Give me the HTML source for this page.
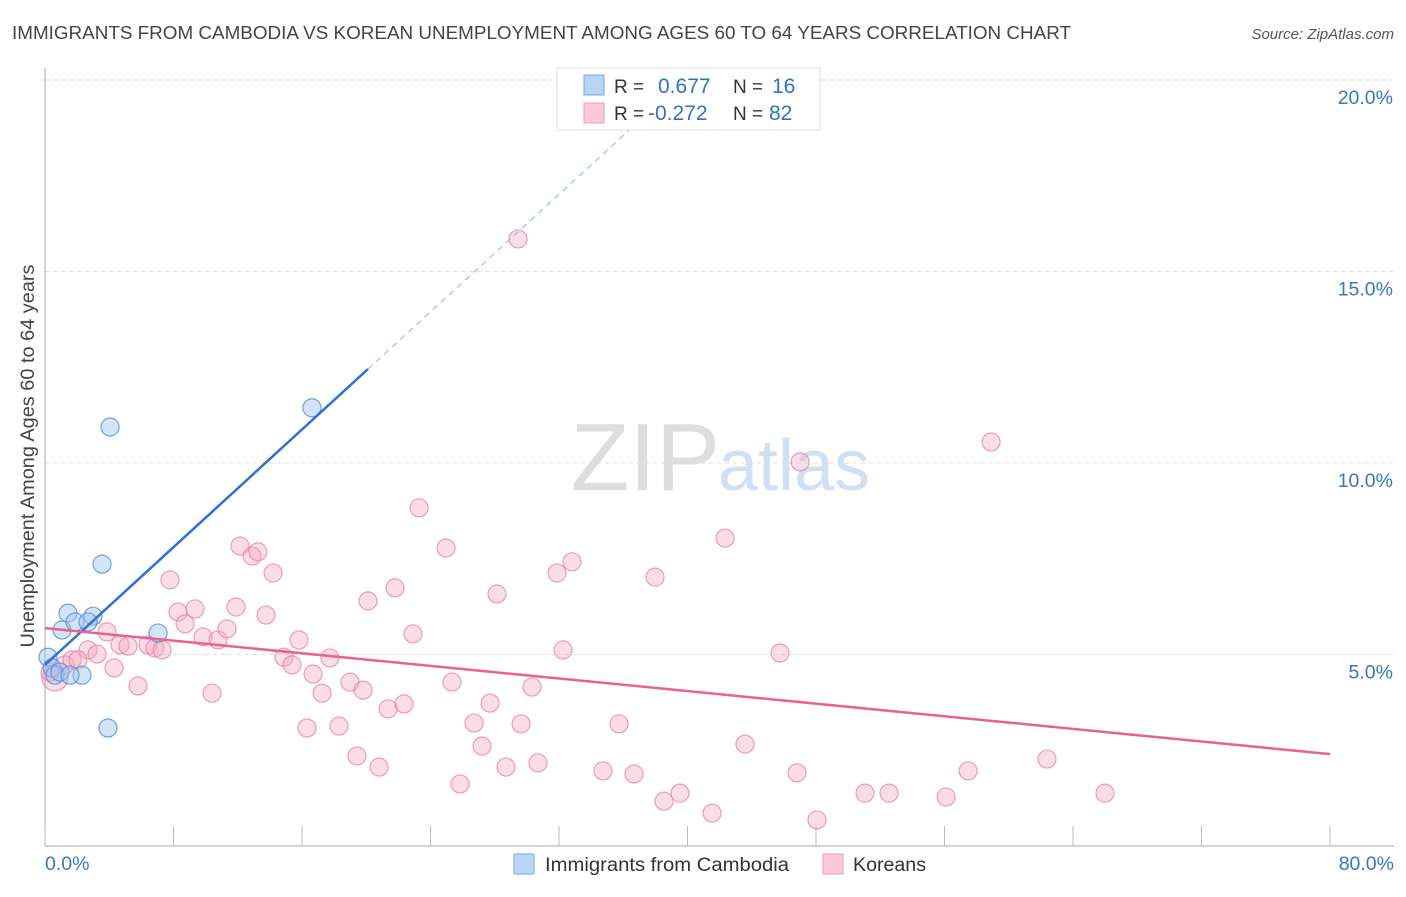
<!DOCTYPE html>
<html><head><meta charset="utf-8">
<style>
body{margin:0;background:#fff;font-family:"Liberation Sans",sans-serif;}
svg text{font-family:"Liberation Sans",sans-serif;}
</style></head>
<body>
<svg id="chart" width="1406" height="892" xmlns="http://www.w3.org/2000/svg">
<text x="12" y="39" font-size="18.5" fill="#444" textLength="1059" lengthAdjust="spacingAndGlyphs">IMMIGRANTS FROM CAMBODIA VS KOREAN UNEMPLOYMENT AMONG AGES 60 TO 64 YEARS CORRELATION CHART</text>
<text x="1394" y="39" font-size="15" fill="#555" text-anchor="end" font-style="italic">Source: ZipAtlas.com</text>
<text transform="translate(34,456) rotate(-90)" font-size="19" fill="#444" text-anchor="middle" textLength="383" lengthAdjust="spacingAndGlyphs">Unemployment Among Ages 60 to 64 years</text>
<text x="720" y="490" font-size="96" text-anchor="end" fill="#ddd" font-family="Liberation Serif">ZIP</text>
<text x="718" y="490" font-size="72" fill="#cfe0f3">atlas</text>
<g id="grid"></g>
<g id="marks"></g>
<g>
<rect x="557" y="68" width="263" height="62" fill="#fff" stroke="#ddd"/>
<rect x="584" y="75" width="20" height="20" fill="#b8d4f5" stroke="#7aa9e0"/>
<rect x="584" y="103" width="20" height="20" fill="#fcc9d8" stroke="#ef9bb4"/>
<text x="614" y="93" font-size="19" fill="#333">R =</text>
<text x="658" y="93" font-size="21" fill="#3570c8">0.677</text>
<text x="733" y="93" font-size="19" fill="#333">N =</text>
<text x="772" y="93" font-size="21" fill="#3570c8">16</text>
<text x="614" y="120" font-size="19" fill="#333">R =</text>
<text x="648" y="120" font-size="21" fill="#3570c8">-0.272</text>
<text x="733" y="120" font-size="19" fill="#333">N =</text>
<text x="769" y="120" font-size="21" fill="#3570c8">82</text>
</g>
<g>
<rect x="514" y="854" width="20" height="20" fill="#b8d4f5" stroke="#7aa9e0"/>
<text x="545" y="871" font-size="19" fill="#333" textLength="244" lengthAdjust="spacingAndGlyphs">Immigrants from Cambodia</text>
<rect x="823" y="854" width="20" height="20" fill="#fcc9d8" stroke="#ef9bb4"/>
<text x="853" y="871" font-size="19" fill="#333" textLength="73" lengthAdjust="spacingAndGlyphs">Koreans</text>
</g>
</svg>
<script>
const xTicks=[0,80];
const yTicks=[5,10,15,20];
const blueX=[0.19,0.44,0.62,0.93,1.43,1.06,1.87,2.30,2.99,2.68,3.55,4.05,3.92,7.04,16.62,1.56];
const blueY=[4.93,4.65,4.46,4.54,6.08,5.64,5.85,4.46,6.0,5.85,7.36,10.94,3.08,5.56,11.44,4.46];
const pinkX=[0.62,1.25,1.68,2.68,3.24,3.86,4.30,4.67,5.17,5.79,6.41,6.85,7.29,7.78,8.28,8.72,9.34,9.84,10.40,10.77,11.33,11.89,12.14,12.89,13.26,13.76,14.20,14.88,15.38,15.81,16.31,16.69,17.25,17.74,18.30,18.99,19.42,19.80,20.11,20.80,21.36,21.79,22.35,22.91,23.29,24.97,25.34,25.84,26.71,27.21,27.71,28.14,28.70,29.45,29.64,30.32,30.69,31.88,32.25,32.81,34.74,35.74,36.67,37.98,38.54,39.53,41.53,42.34,43.58,45.76,46.82,47.01,48.06,51.05,52.55,56.10,57.47,58.90,62.38,65.99,0.31,2.05];
const pinkY=[4.39,4.73,4.86,5.12,5.01,5.59,4.65,5.25,5.22,4.18,5.25,5.17,5.12,6.95,6.11,5.80,6.19,5.46,3.99,5.38,5.67,6.24,7.83,7.57,7.68,6.03,7.13,4.93,4.73,5.38,3.08,4.49,3.99,4.91,3.13,4.28,2.35,4.07,6.40,2.06,3.58,6.74,3.71,5.54,8.83,7.78,4.28,1.62,3.21,2.61,3.73,6.58,2.06,15.85,3.19,4.15,2.17,7.13,5.12,7.42,1.96,3.19,1.88,7.02,1.17,1.38,0.86,8.04,2.66,5.04,1.91,10.03,0.68,1.38,1.38,1.28,1.96,10.55,2.27,1.38,4.54,4.86];
const blueLine=[0,4.73,20.1,12.45,37.7,19.2];
const pinkLine=[0,5.69,80,2.40];
const X=v=>45+v*1285/80, Y=v=>846-v*38.3;
const NS='http://www.w3.org/2000/svg';
function mk(p,t,a){const e=document.createElementNS(NS,t);for(const k in a)e.setAttribute(k,a[k]);p.appendChild(e);return e;}
const g=document.getElementById('grid'), m=document.getElementById('marks');
yTicks.forEach(t=>{
 const l=mk(g,'line',{x1:45,x2:1394,y1:Y(t),y2:Y(t),stroke:'#ddd','stroke-dasharray':'4,4'});
 
 
 const tx=mk(g,'text',{x:1393,y:Y(t)+24,'font-size':19.5,fill:'#3a75c4','text-anchor':'end'});tx.textContent=t.toFixed(1)+'%';
 
 
});
mk(g,'line',{x1:45,x2:45,y1:68,y2:846,stroke:'#aaa'});
mk(g,'line',{x1:45,x2:1394,y1:846,y2:846,stroke:'#aaa'});
for(let i=0;i<=10;i++){mk(g,'line',{x1:X(i*8),x2:X(i*8),y1:826,y2:846,stroke:'#bbb'});}
xTicks.forEach((t,i)=>{const tx=mk(g,'text',{x:i?1394:45,y:870,'font-size':19.5,fill:'#3a75c4','text-anchor':i?'end':'start'});tx.textContent=t.toFixed(1)+'%';
 
 });
pinkX.forEach((x,i)=>{const c=mk(m,'circle',{cx:X(x),cy:Y(pinkY[i]),r:i==0?13:9,fill:'rgba(246,170,195,0.4)',stroke:'rgba(232,120,155,0.7)','stroke-width':1.2});
 
 });
blueX.forEach((x,i)=>{const c=mk(m,'circle',{cx:X(x),cy:Y(blueY[i]),r:9,fill:'rgba(160,196,240,0.45)',stroke:'rgba(80,140,215,0.8)','stroke-width':1.2});
 
 });
const bl=mk(m,'line',{x1:X(blueLine[0]),y1:Y(blueLine[1]),x2:X(blueLine[2]),y2:Y(blueLine[3]),stroke:'#2f6fd6','stroke-width':2.5});


const bd=mk(m,'line',{x1:X(blueLine[2]),y1:Y(blueLine[3]),x2:X(blueLine[4]),y2:Y(blueLine[5]),stroke:'#8fb0dd','stroke-width':1,'stroke-dasharray':'6,5'});


const pl=mk(m,'line',{x1:X(pinkLine[0]),y1:Y(pinkLine[1]),x2:X(pinkLine[2]),y2:Y(pinkLine[3]),stroke:'#e8628f','stroke-width':2.5});


</script>
</body></html>
